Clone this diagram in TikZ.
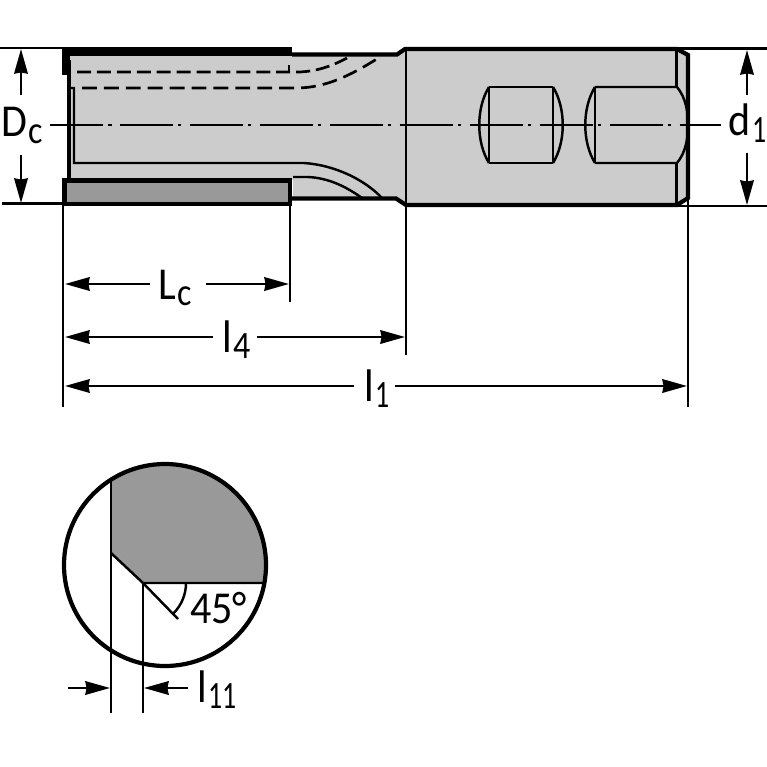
\documentclass[tikz,border=0pt]{standalone}
\usepackage{fontspec}
\setmainfont{Carlito}
\newfontfamily\digitfont[FakeStretch=0.72]{Carlito}
\newfontfamily\subfont[FakeStretch=0.88]{Carlito}
\newfontfamily\mainnarrow[FakeStretch=0.92]{Carlito}
\usetikzlibrary{arrows.meta}
\definecolor{bodygray}{HTML}{CCCCCC}
\definecolor{insertgray}{HTML}{999999}
\newcommand{\sublabel}[3][\subfont]{{\mainnarrow\fontsize{39}{39}\selectfont #2\kern1.5pt\raisebox{-5.5pt}{#1\fontsize{33}{33}\selectfont #3}}}
\tikzset{
  outline/.style={line width=3.6pt},
  thinline/.style={line width=2.1pt},
  dimline/.style={line width=2.1pt,-{Stealth[length=21pt,width=11.5pt,inset=1pt]}},
  centerline/.style={line width=1.8pt,dash pattern=on 45.2pt off 4.7pt on 2.6pt off 7.2pt},
  hidden/.style={line width=2.3pt},
  dimtext/.style={inner sep=0pt,anchor=base west},
}
\begin{document}
\begin{tikzpicture}[x=0.03cm,y=-0.03cm]
      \useasboundingbox (0,0) rectangle (767,767);
      \fill[bodygray] (69,54)--(397,54)--(405,49)--(406,204)--(396,198)--(293,198)--(293,180)--(69,180)--cycle;%shank
      \fill[bodygray] (404,49)--(677,49)--(688,55)--(688,198)--(677,205)--(406,205)--cycle;
      % outline
      \draw[outline] (292,54.5)--(397,54.5)--(405,49)--(677,49)--(688,55)--(688,198)--(677,205)--(406,205)--(396,198.5)--(290,198.5);
      \draw[line width=4.2pt] (69,60)--(69,180);
      \fill (61.5,47)rectangle(292,56.5);%land
      \fill (61.5,47)rectangle(70,75);
      \draw[thinline] (406,48)--(406,205);
      \draw[thinline] (676.5,49)--(676.5,87);
      \draw[thinline] (676.5,163)--(676.5,205);
      % insert
      \draw[fill=insertgray,line width=3.9pt] (64.5,180.5) rectangle (290,204);
      % flute
      \draw[thinline] (69,88)--(74,88)--(74,163)--(304,163) .. controls (335,165) and (365,180) .. (382,198);
      \draw[thinline] (293,177)--(308,177) .. controls (330,178) and (348,188) .. (362,198);
      % coolant
      \draw[hidden,dash pattern=on 12pt off 5pt] (77,72)--(300,72) .. controls (318,71) and (332,66) .. (347,58);
      \draw[hidden,dash pattern=on 12.7pt off 6pt] (82,88)--(296,88) .. controls (325,88) and (350,76) .. (380,57);
      \draw[hidden] (289,65)--(289,72);
      % holes
      \draw[thinline] (489,87)--(553,87) (489,163)--(553,163) (489,87)--(489,163) (553,87)--(553,163);
      \draw[thinline] (489,87) .. controls (476,108) and (476,142) .. (489,163);
      \draw[thinline] (553,87) .. controls (566,108) and (566,142) .. (553,163);
      \draw[thinline] (595,87)--(595,163);
      \draw[thinline] (595,87) .. controls (582,108) and (582,142) .. (595,163);
      \draw[thinline] (595,87)--(677,87) .. controls (686,98) and (688,112) .. (688,125) .. controls (688,138) and (686,152) .. (677,163)--(595,163);
      \draw[centerline] (50,125)--(721,125);%axis
      % extension lines
      \draw[thinline] (0,48)--(62,48);
      \draw[thinline] (2,203.5)--(64,203.5);
      \draw[thinline] (677,48.5)--(767,48.5);
      \draw[thinline] (677,206)--(767,206);
      \draw[thinline] (63,204)--(63,407);
      \draw[thinline] (290,204)--(290,302);
      \draw[thinline] (406,205)--(406,355);
      \draw[thinline] (688,198)--(688,407);
      % dimensions
      \draw[dimline] (21,95)--(21,49);
      \draw[dimline] (21,155)--(21,203);
      \draw[dimline] (747,95)--(747,50);
      \draw[dimline] (747,153)--(747,205);
      \draw[dimline] (150,284)--(65,284);
      \draw[dimline] (206,284)--(289,284);
      \draw[dimline] (213,337)--(65,337);
      \draw[dimline] (257,337)--(405,337);
      \draw[dimline] (354,386)--(65,386);
      \draw[dimline] (395,386)--(687,386);
      \node[dimtext] (Dc) at (1,137) {\sublabel{D}{c}};
      \node[dimtext] (d1) at (728,136) {\sublabel[\digitfont]{d}{1}};
      \node[dimtext] (Lc) at (158,299) {\sublabel{L}{c}};
      \node[dimtext] (l4) at (222,352) {\sublabel{l}{4}};
      \node[dimtext] (l1) at (364,401) {\sublabel[\digitfont]{l}{1}};
      % section
      \fill[insertgray] (111,482)--(111,553)--(143,583)--(263,583) arc[start angle=10.4,end angle=-123,radius=101]--cycle;
      \draw[line width=3.6pt] (165,565) circle[radius=101];
      \draw[thinline] (111,482)--(111,713);
      \draw[thinline] (143,583)--(143,713);
      \draw[thinline] (263,583)--(143,583)--(111,553);
      \draw[thinline] (143,583)--(178,619);
      \draw[thinline] (186,583) arc[start angle=0,end angle=45,radius=43];
      \draw[dimline] (68,688)--(110,688);
      \draw[dimline] (188,688)--(144,688);
      \node[dimtext] (l11) at (197,702) {\sublabel[\digitfont]{l}{11}};
      \node[dimtext,font=\mainnarrow\fontsize{39}{39}\selectfont] (angle) at (190,623) {45°};
    \end{tikzpicture}
\end{document}
